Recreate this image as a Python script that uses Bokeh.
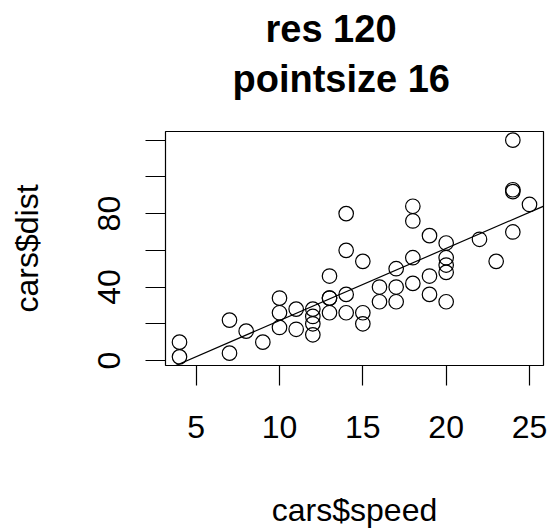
import numpy as np
from bokeh.plotting import figure
from bokeh.models import Range1d, FixedTicker, Slope, Title
from bokeh.embed import file_html
from bokeh.resources import INLINE

# R "cars" data
speed = [4, 4, 7, 7, 8, 9, 10, 10, 10, 11, 11, 12, 12, 12, 12, 13, 13, 13, 13, 14,
         14, 14, 14, 15, 15, 15, 16, 16, 17, 17, 17, 18, 18, 18, 18, 19, 19, 19, 20, 20,
         20, 20, 20, 22, 23, 24, 24, 24, 24, 25]
dist = [2, 10, 4, 22, 16, 10, 18, 26, 34, 17, 28, 14, 20, 24, 28, 26, 34, 34, 46, 26,
        36, 60, 80, 20, 26, 54, 32, 40, 32, 40, 50, 42, 56, 76, 84, 36, 46, 68, 32, 48,
        52, 56, 64, 66, 54, 70, 92, 93, 120, 85]
x_ticks = [5, 10, 15, 20, 25]
y_ticks = [0, 20, 40, 60, 80, 100, 120]
y_tick_labels = {0: "0", 20: "", 40: "40", 60: "", 80: "80", 100: "", 120: ""}
title_lines = ["res 120", "pointsize 16"]

FONT = "Liberation Sans"

xmin, xmax = min(speed), max(speed)
ymin, ymax = min(dist), max(dist)
xpad = (xmax - xmin) * 0.04
ypad = (ymax - ymin) * 0.04

p = figure(width=553, height=530,
           x_range=Range1d(xmin - xpad, xmax + xpad),
           y_range=Range1d(ymin - ypad, ymax + ypad),
           output_backend="svg", toolbar_location=None,
           min_border_left=165, min_border_right=10,
           min_border_top=0, min_border_bottom=164)

p.xgrid.visible = False
p.ygrid.visible = False
p.outline_line_color = "black"
p.outline_line_width = 1.2
p.background_fill_color = "white"
p.border_fill_color = "white"

for ax in (p.xaxis[0], p.yaxis[0]):
    ax.axis_line_color = None
    ax.major_tick_out = 20
    ax.major_tick_in = 0
    ax.major_tick_line_color = "black"
    ax.major_tick_line_width = 1.2
    ax.minor_tick_line_color = None
    ax.major_label_text_font = FONT
    ax.major_label_text_font_size = "32px"
    ax.major_label_text_color = "black"
    ax.axis_label_text_font = FONT
    ax.axis_label_text_font_size = "32px"
    ax.axis_label_text_font_style = "normal"
    ax.axis_label_text_color = "black"

p.xaxis.ticker = FixedTicker(ticks=x_ticks)
p.yaxis.ticker = FixedTicker(ticks=y_ticks)
p.yaxis.major_label_overrides = {k: v for k, v in y_tick_labels.items()}
p.yaxis.major_label_orientation = "vertical"
p.xaxis.axis_label = "cars$speed"
p.yaxis.axis_label = "cars$dist"
p.xaxis.major_label_standoff = 30
p.xaxis.axis_label_standoff = 51
p.yaxis.major_label_standoff = 25
p.yaxis.axis_label_standoff = 51

p.scatter(speed, dist, marker="circle", size=14.5, fill_color=None,
          line_color="black", line_width=1.2)

slope, intercept = np.polyfit(np.array(speed, float), np.array(dist, float), 1)
p.add_layout(Slope(gradient=slope, y_intercept=intercept,
                   line_color="black", line_width=1.2))

# title lines: main title outermost; extra panels stack outward in add order
p.title.text = title_lines[0]
p.title.align = "left"
p.title.offset = 265 - 165
p.title.text_font = FONT
p.title.text_font_size = "38px"
p.title.text_font_style = "bold"
p.title.text_color = "black"
p.title.standoff = 11
spacer = Title(text=" ", text_font=FONT, text_font_size="10px", standoff=19)
p.add_layout(spacer, "above")
t2 = Title(text=title_lines[1], align="left", offset=232 - 165,
           text_font=FONT, text_font_size="38px", text_font_style="bold",
           text_color="black", standoff=0)
p.add_layout(t2, "above")

open("out.html", "w").write(file_html(p, INLINE))
